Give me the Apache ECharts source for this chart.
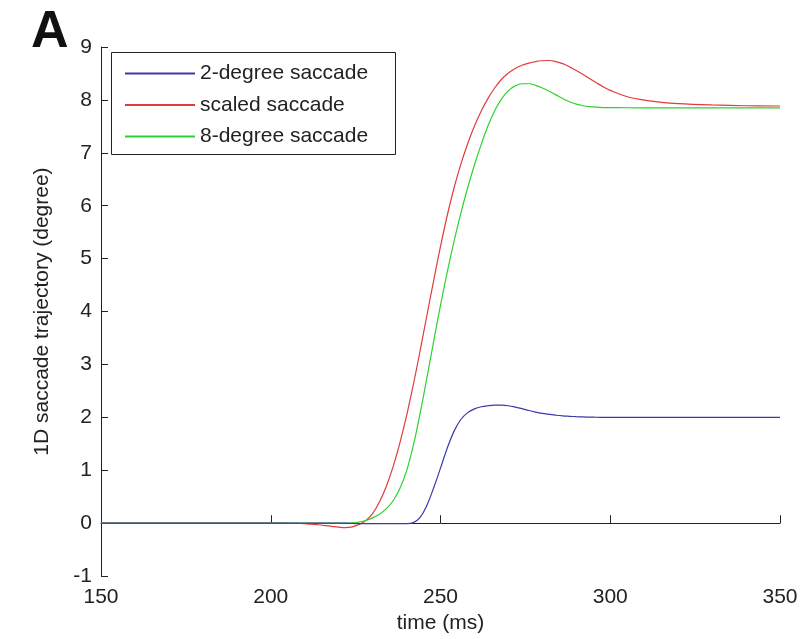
<!DOCTYPE html>
<html>
<head>
<meta charset="utf-8">
<script src="https://cdn.jsdelivr.net/npm/echarts@6/dist/echarts.min.js"></script>
<style>html,body{margin:0;padding:0;background:#fff}#c{width:804px;height:639px}</style>
</head>
<body>
<div id="c"></div>
<script>
const times = [150,160,170,180,190,
  200,202,204,206,208,210,212,214,216,218,220,222,224,226,228,230,232,234,236,238,240,242,244,246,248,250,
  252,254,256,258,260,262,264,266,268,270,272,274,276,278,280,282,284,286,288,290,292,294,296,298,300,
  305,310,315,320,330,340,350];
const twoDeg = [0,0,0,0,0,
  0,0,0,0,0,0,0,0,0,0,0,0,-0.005,-0.01,-0.01,-0.01,-0.01,-0.01,-0.01,-0.01,-0.01,0.01,0.11,0.34,0.67,1.04,
  1.42,1.74,1.96,2.09,2.16,2.20,2.22,2.23,2.23,2.22,2.195,2.165,2.13,2.10,2.075,2.055,2.04,2.028,2.02,2.013,2.008,2.004,2.002,2.0,2.0,
  2.0,2.0,2.0,2.0,2.0,2.0,2.0];
const scaled = [0,0,0,0,0,
  0,0,0,-0.002,-0.005,-0.01,-0.02,-0.03,-0.045,-0.06,-0.075,-0.085,-0.07,-0.025,0.05,0.18,0.40,0.69,1.06,1.51,2.03,2.62,3.26,3.93,4.59,5.23,
  5.82,6.34,6.785,7.17,7.505,7.79,8.03,8.23,8.39,8.51,8.595,8.655,8.695,8.725,8.74,8.745,8.725,8.685,8.625,8.555,8.48,8.40,8.32,8.245,8.18,
  8.06,7.995,7.955,7.93,7.905,7.89,7.885];
const eightDeg = [0,0,0,0,0,
  0,0,0,0,0,0,0,0,0,0,0,0,0.005,0.02,0.05,0.10,0.17,0.27,0.42,0.65,0.99,1.47,2.08,2.75,3.44,4.12,
  4.75,5.33,5.86,6.34,6.77,7.16,7.51,7.80,8.02,8.175,8.265,8.305,8.305,8.275,8.225,8.165,8.095,8.025,7.965,7.92,7.89,7.872,7.862,7.856,7.853,
  7.852,7.85,7.85,7.85,7.85,7.85,7.85];
const names = ['2-degree saccade','scaled saccade','8-degree saccade'];
const colors = ['#3a3aa8','#e03c3c','#2ed12e'];
const xTicks = [150,200,250,300,350];
const yTicks = [-1,0,1,2,3,4,5,6,7,8,9];

const font = 'Liberation Sans, Arial, sans-serif';
const pair = arr => times.map((t,i)=>[t,arr[i]]);
const chart = echarts.init(document.getElementById('c'));
chart.setOption({
  animation:false,
  backgroundColor:'#fff',
  textStyle:{fontFamily:font},
  title:{text:'A',left:26,top:2,textStyle:{fontSize:52,fontWeight:'bold',color:'#111',fontFamily:font}},
  graphic:[{type:'rect',left:111,top:52,shape:{width:284,height:102},style:{fill:'#fff',stroke:'#222',lineWidth:1},z:90}],
  legend:{orient:'vertical',left:112,top:54,padding:[9,12,9,12],itemWidth:70,itemHeight:18,itemGap:10.5,
    itemStyle:{opacity:0},
    textStyle:{fontSize:21,color:'#222',fontFamily:font},data:names,z:100},
  grid:{left:101,right:24,top:47,bottom:62},
  xAxis:{type:'value',min:xTicks[0],max:xTicks[xTicks.length-1],interval:50,
    name:'time (ms)',nameLocation:'middle',nameGap:35,nameTextStyle:{fontSize:21,color:'#222'},
    axisLine:{lineStyle:{color:'#222',width:1}},axisTick:{inside:true,length:8,lineStyle:{color:'#222'}},
    axisLabel:{fontSize:21,color:'#222',margin:11},splitLine:{show:false}},
  yAxis:{type:'value',min:yTicks[0],max:yTicks[yTicks.length-1],interval:1,
    name:'1D saccade trajectory (degree)',nameLocation:'middle',nameGap:48,nameTextStyle:{fontSize:21,color:'#222'},
    axisLine:{show:true,lineStyle:{color:'#222',width:1}},axisTick:{show:true,inside:true,length:7,lineStyle:{color:'#222'}},
    axisLabel:{fontSize:21,color:'#222',margin:9},splitLine:{show:false}},
  series:[
    {name:names[0],type:'line',data:pair(twoDeg),smooth:0.4,symbol:'none',lineStyle:{color:colors[0],width:1.2},itemStyle:{color:colors[0]},z:3},
    {name:names[1],type:'line',data:pair(scaled),smooth:0.4,symbol:'none',lineStyle:{color:colors[1],width:1.2},itemStyle:{color:colors[1]},z:2},
    {name:names[2],type:'line',data:pair(eightDeg),smooth:0.4,symbol:'none',lineStyle:{color:colors[2],width:1.2},itemStyle:{color:colors[2]},z:2}
  ]
});
</script>
</body>
</html>
